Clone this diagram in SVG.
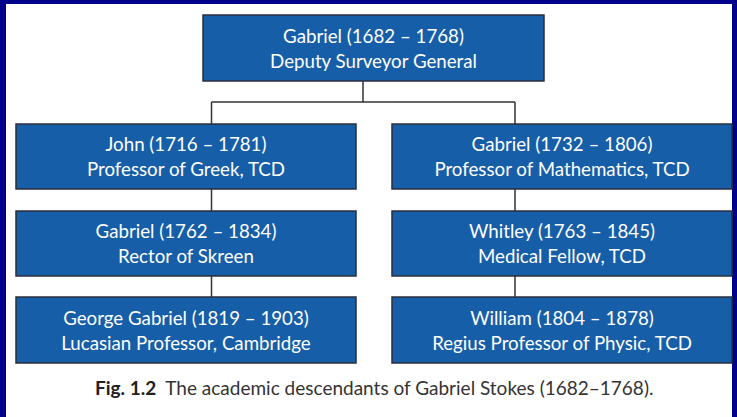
<svg xmlns="http://www.w3.org/2000/svg" width="737" height="417" viewBox="0 0 737 417">
<style>
.box{fill:#175ea8;stroke:#2b2f3d;stroke-width:1.5}
.t{font-family:Lato,"Open Sans",sans-serif;font-size:18.7px;fill:#ffffff;text-anchor:middle}
.c{fill:none;stroke:#333333;stroke-width:1.5}
.cap{font-family:Lato,"Open Sans",sans-serif;font-size:19px;fill:#333333}
</style>
<rect x="0" y="0" width="737" height="417" fill="#00008b"/>
<rect x="6" y="4" width="726" height="413" fill="#ffffff"/>
<g id="connectors">
<path class="c" d="M363 81V102M211.5 102H515M211.5 102V124M515 102V124M211.5 189V211M211.5 276V297M515 189V211M515 276V297"/>
</g>
<g id="n0"><rect class="box" x="203" y="15" width="341" height="66"/><text class="t" x="373.5" y="43">Gabriel (1682 – 1768)</text><text class="t" x="373.5" y="68">Deputy Surveyor General</text></g>
<g id="n1"><rect class="box" x="16" y="124" width="340" height="65"/><text class="t" x="186" y="151">John (1716 – 1781)</text><text class="t" x="186" y="176">Professor of Greek, TCD</text></g>
<g id="n2"><rect class="box" x="392" y="124" width="340" height="65"/><text class="t" x="562" y="151">Gabriel (1732 – 1806)</text><text class="t" x="562" y="176">Professor of Mathematics, TCD</text></g>
<g id="n3"><rect class="box" x="16" y="211" width="340" height="65"/><text class="t" x="186" y="238">Gabriel (1762 – 1834)</text><text class="t" x="186" y="263">Rector of Skreen</text></g>
<g id="n4"><rect class="box" x="392" y="211" width="340" height="65"/><text class="t" x="562" y="238">Whitley (1763 – 1845)</text><text class="t" x="562" y="263">Medical Fellow, TCD</text></g>
<g id="n5"><rect class="box" x="16" y="297" width="340" height="66"/><text class="t" x="186" y="325">George Gabriel (1819 – 1903)</text><text class="t" x="186" y="350">Lucasian Professor, Cambridge</text></g>
<g id="n6"><rect class="box" x="392" y="297" width="340" height="66"/><text class="t" x="562" y="325">William (1804 – 1878)</text><text class="t" x="562" y="350">Regius Professor of Physic, TCD</text></g>
<text class="cap" x="95" y="395"><tspan font-weight="bold" fill="#222222">Fig. 1.2</tspan><tspan dx="9">The academic descendants of Gabriel Stokes (1682–1768).</tspan></text>
</svg>
